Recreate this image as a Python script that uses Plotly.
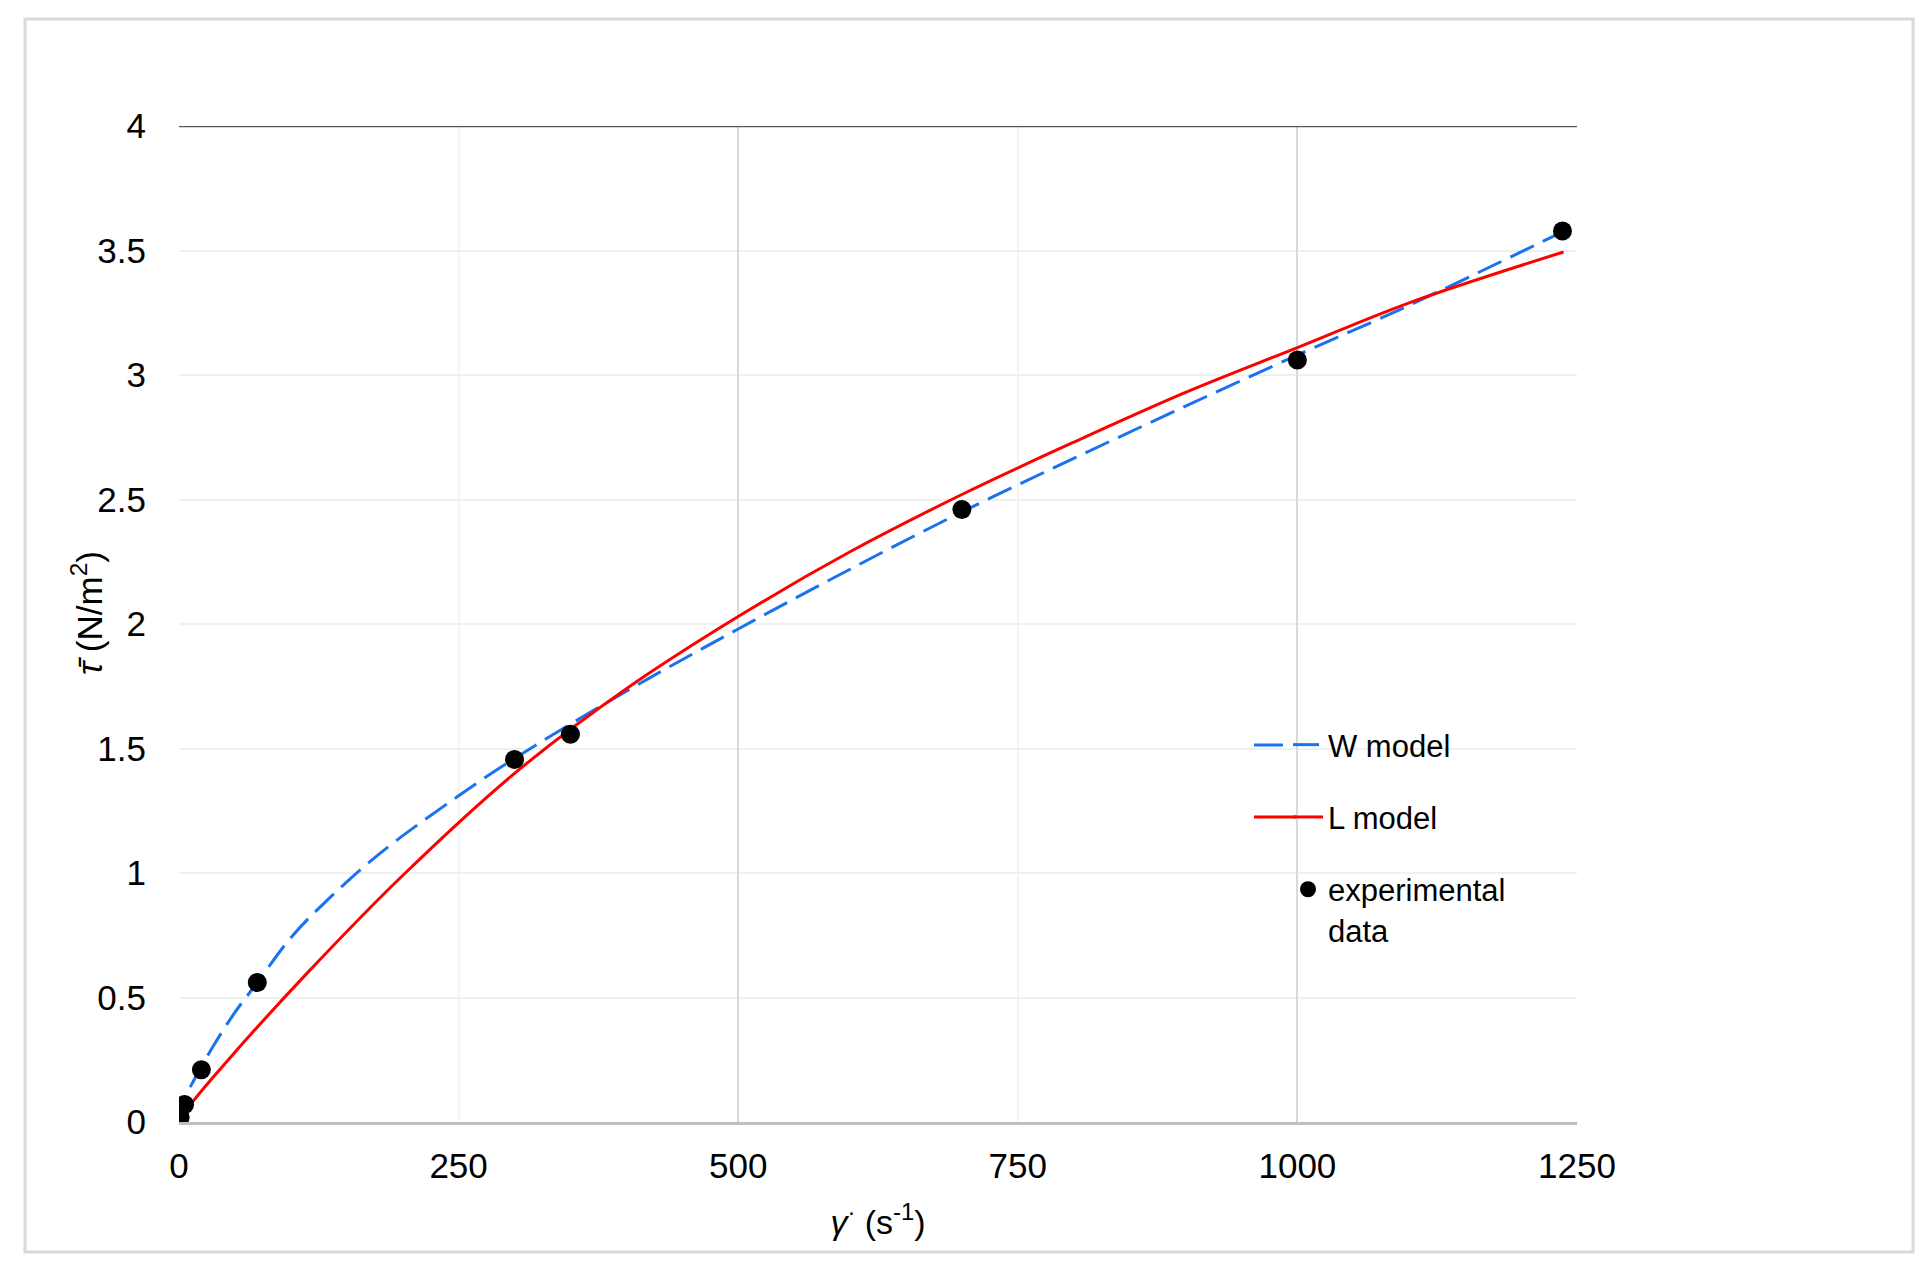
import plotly.graph_objects as go

# ---- data ----
exp_x = [0, 1, 5, 20, 70, 300, 350, 700, 1000, 1237]
exp_y = [0.0, 0.02, 0.07, 0.21, 0.56, 1.456, 1.557, 2.46, 3.06, 3.578]

w_x = [10, 30, 50, 70, 100, 130, 180, 250, 300, 400, 500, 600, 700, 800, 900,
       1000, 1100, 1237]
w_y = [0.14, 0.30, 0.44, 0.56, 0.74, 0.88, 1.08, 1.31, 1.46, 1.73, 1.98, 2.22,
       2.45, 2.665, 2.875, 3.08, 3.28, 3.575]

l_x = [0, 12, 50, 115, 200, 300, 400, 500, 600, 700, 800, 900, 1000, 1100, 1238]
l_y = [0.0, 0.08, 0.28, 0.60, 0.99, 1.40, 1.74, 2.03, 2.29, 2.52, 2.73, 2.93,
       3.11, 3.29, 3.494]

x_ticks = [0, 250, 500, 750, 1000, 1250]
y_ticks = [0, 0.5, 1, 1.5, 2, 2.5, 3, 3.5, 4]
x_major_grid = [500, 1000, 1250]

# ---- layout geometry (pixels) ----
W, H = 1932, 1273
PL, PR, PT, PB = 179, 1577, 126, 1122
pw, ph = PR - PL, PB - PT

def px(x):
    return (x - PL) / pw

def py(y):
    return (PB - y) / ph

FONT = "Liberation Sans, Arial, sans-serif"
BLUE = "#1a72f0"
RED = "#ff0000"

fig = go.Figure()
fig.add_trace(go.Scatter(
    x=w_x, y=w_y, mode="lines", name="W model", legendgroup="w",
    line=dict(color=BLUE, width=3, dash="26px,10px", shape="spline", smoothing=1.0),
))
fig.add_trace(go.Scatter(
    x=l_x, y=l_y, mode="lines", name="L model", legendgroup="l",
    line=dict(color=RED, width=3, shape="spline", smoothing=1.0),
))
fig.add_trace(go.Scatter(
    x=exp_x, y=exp_y, mode="markers", name="experimental<br>data", legendgroup="e",
    marker=dict(color="#000000", size=19),
))
# invisible trace to carry the darker gridlines
fig.add_trace(go.Scatter(x=[0, 1250], y=[0, 0], xaxis="x2", mode="lines",
                         line=dict(width=0), showlegend=False, hoverinfo="skip"))

fig.update_layout(
    width=W, height=H, autosize=False,
    margin=dict(l=PL, r=W - PR, t=PT, b=H - PB, pad=0),
    paper_bgcolor="white", plot_bgcolor="white",
    font=dict(family=FONT, size=30, color="#000000"),
    xaxis=dict(
        range=[0, 1250], tickmode="array", tickvals=x_ticks,
        showgrid=True, gridcolor="#f4f4f4", gridwidth=1.5,
        zeroline=False, showline=True, linecolor="#bfbfbf", linewidth=3,
        ticks="", ticklabelstandoff=11,
        tickfont=dict(size=35),
        title=dict(text="<i>γ</i><sup>·</sup> (s<sup>-1</sup>)", font=dict(size=34), standoff=27),
    ),
    xaxis2=dict(
        range=[0, 1250], overlaying="x", tickmode="array", tickvals=x_major_grid,
        showgrid=True, gridcolor="#d9d9d9", gridwidth=2, showticklabels=False,
        zeroline=False, showline=False, ticks="",
    ),
    yaxis=dict(
        range=[0, 4], tickmode="array", tickvals=y_ticks,
        showgrid=True, gridcolor="#f0f0f0", gridwidth=1.5,
        zeroline=False, showline=False, ticks="", ticklabelstandoff=32,
        tickfont=dict(size=35),
    ),
    legend=dict(
        x=px(1288), y=py(718), xanchor="left", yanchor="top",
        bgcolor="rgba(0,0,0,0)", borderwidth=0, valign="top",
        font=dict(size=31), traceorder="grouped", tracegroupgap=29,
    ),
    annotations=[
        dict(text="<i>τ̄</i> (N/m<sup>2</sup>)", textangle=-90,
             xref="paper", yref="paper", x=px(87), y=py(613),
             xanchor="center", yanchor="middle", showarrow=False,
             font=dict(size=35)),
    ],
    shapes=[
        # dark top line at y = 4
        dict(type="line", xref="x", yref="y", x0=0, x1=1250, y0=4, y1=4,
             line=dict(color="#595959", width=2.5), layer="above"),
        # outer frame
        dict(type="rect", xref="paper", yref="paper",
             x0=px(25), x1=px(1913), y0=py(19), y1=py(1252),
             line=dict(color="#d9d9d9", width=3), layer="below"),
        # longer legend keys, as in the reference
        dict(type="line", xref="paper", yref="paper",
             x0=px(1254), x1=px(1283), y0=py(745), y1=py(745),
             line=dict(color=BLUE, width=3)),
        dict(type="line", xref="paper", yref="paper",
             x0=px(1254), x1=px(1296), y0=py(817), y1=py(817),
             line=dict(color=RED, width=3)),
    ],
    showlegend=True,
)

fig.write_html("out.html", config={"displayModeBar": False},
               post_script="document.body.style.margin='0';")
